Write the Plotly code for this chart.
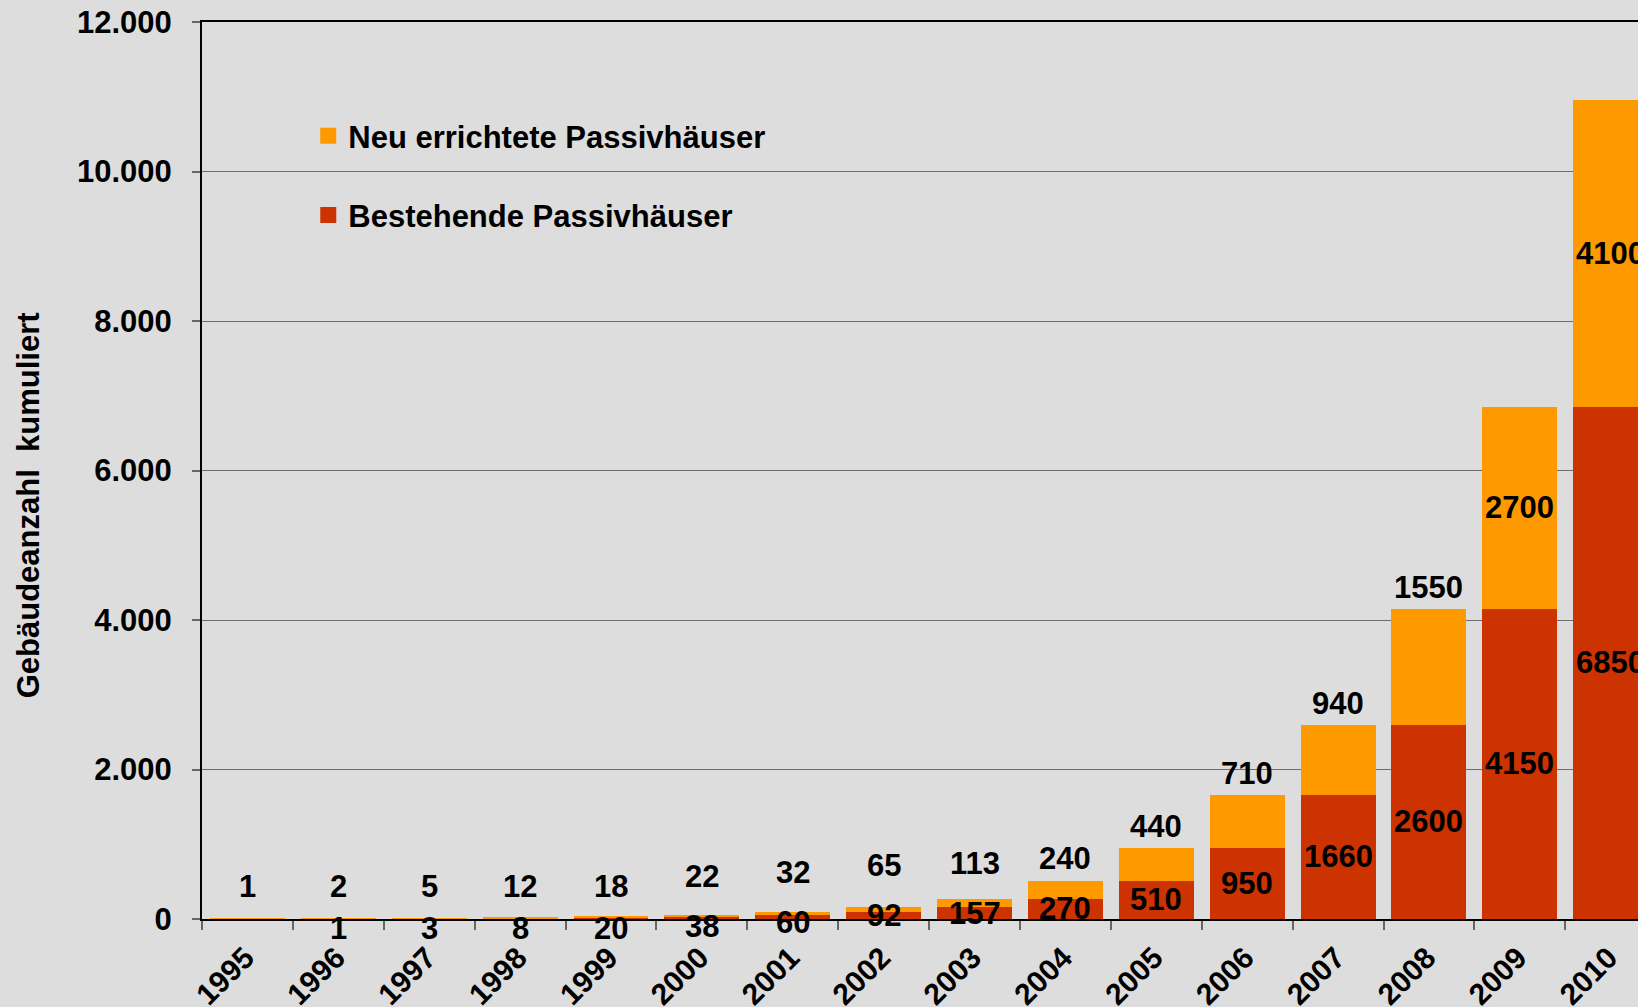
import plotly.graph_objects as go

years = ["1995", "1996", "1997", "1998", "1999", "2000", "2001", "2002",
         "2003", "2004", "2005", "2006", "2007", "2008", "2009", "2010"]
bestehende = [0, 1, 3, 8, 20, 38, 60, 92, 157, 270, 510, 950, 1660, 2600, 4150, 6850]
neu = [1, 2, 5, 12, 18, 22, 32, 65, 113, 240, 440, 710, 940, 1550, 2700, 4100]

name_neu = "Neu errichtete Passivhäuser"
name_best = "Bestehende Passivhäuser"
y_title = "Gebäudeanzahl\u00a0 kumuliert"

C_NEU = "#FF9900"
C_BEST = "#CC3300"
BG = "#DDDDDD"
FONT = "Liberation Sans, Arial, sans-serif"

W, H = 1638, 1007
M = dict(l=202, r=0, t=22, b=88)
YMAX = 12000
ppu = (H - M["t"] - M["b"]) / YMAX  # pixels per data unit on the y axis

fig = go.Figure()
fig.add_trace(go.Bar(x=years, y=bestehende, name=name_best, marker_color=C_BEST,
                     marker_line_width=0, showlegend=False, hoverinfo="skip"))
fig.add_trace(go.Bar(x=years, y=neu, name=name_neu, marker_color=C_NEU,
                     marker_line_width=0, showlegend=False, hoverinfo="skip"))
# legend entries (square swatches)
fig.add_trace(go.Scatter(x=[None], y=[None], mode="markers", name=name_neu,
                         marker=dict(symbol="square", size=16, color=C_NEU),
                         legendgroup="a", legendrank=1))
fig.add_trace(go.Scatter(x=[None], y=[None], mode="markers", name=name_best,
                         marker=dict(symbol="square", size=16, color=C_BEST),
                         legendgroup="b", legendrank=2))

label_font = dict(family=FONT, size=31, color="black", weight="bold")
annotations = []
for i, (b, n) in enumerate(zip(bestehende, neu)):
    total = b + n
    # bottom segment label (pixel offset of its centre above the x axis)
    if b < 30:
        bottom_px = -9
    elif b < 50:
        bottom_px = -7
    elif b < 80:
        bottom_px = -3
    else:
        bottom_px = b / 2 * ppu
    if b > 0:
        annotations.append(dict(x=i, y=0, yshift=bottom_px, text=str(b), showarrow=False,
                                font=label_font, xanchor="center", yanchor="middle"))
    # top segment label
    if n >= 2000:
        annotations.append(dict(x=i, y=b + n / 2, text=str(n), showarrow=False,
                                font=label_font, xanchor="center", yanchor="middle"))
    else:
        top_px = max(total * ppu + 21, 33)
        if b >= 30:
            top_px = max(top_px, bottom_px + 50)
        annotations.append(dict(x=i, y=0, yshift=top_px, text=str(n), showarrow=False,
                                font=label_font, xanchor="center", yanchor="middle"))

annotations.append(dict(xref="paper", yref="paper", x=-0.121, y=0.4615, text=y_title,
                        textangle=-90, showarrow=False, xanchor="center", yanchor="middle",
                        font=dict(family=FONT, size=31, color="black", weight="bold")))

fig.update_layout(
    width=W, height=H,
    barmode="stack", bargap=0.175,
    paper_bgcolor=BG, plot_bgcolor=BG,
    margin=M,
    separators=",.",
    font=dict(family=FONT, color="black"),
    legend=dict(x=0.074, y=0.903, xanchor="left", yanchor="top",
                traceorder="grouped", tracegroupgap=36, itemwidth=30,
                font=dict(family=FONT, size=31, color="black", weight="bold"),
                bgcolor="rgba(0,0,0,0)", borderwidth=0),
    annotations=annotations,
    xaxis=dict(type="category", range=[-0.5, 15.30], showline=True, linecolor="black",
               linewidth=2, mirror=True, ticks="outside", tickson="boundaries",
               ticklen=9, tickcolor="#666666", tickwidth=1.5, tickangle=-45,
               ticklabelstandoff=7, ticklabelshift=-2, automargin=False,
               tickfont=dict(family=FONT, size=30, color="black", weight="bold"),
               showgrid=False, zeroline=False),
    yaxis=dict(range=[0, YMAX], dtick=2000, tickformat=",d", showline=True,
               linecolor="black", linewidth=2, ticks="outside", ticklen=8,
               tickcolor="#666666", tickwidth=1.5, ticklabelstandoff=14, automargin=False,
               tickfont=dict(family=FONT, size=31, color="black", weight="bold"),
               showgrid=True, gridcolor="#6E6E6E", gridwidth=1, zeroline=False),
)

fig.write_html("out.html", config={"displayModeBar": False},
               post_script="document.body.style.margin='0';")
